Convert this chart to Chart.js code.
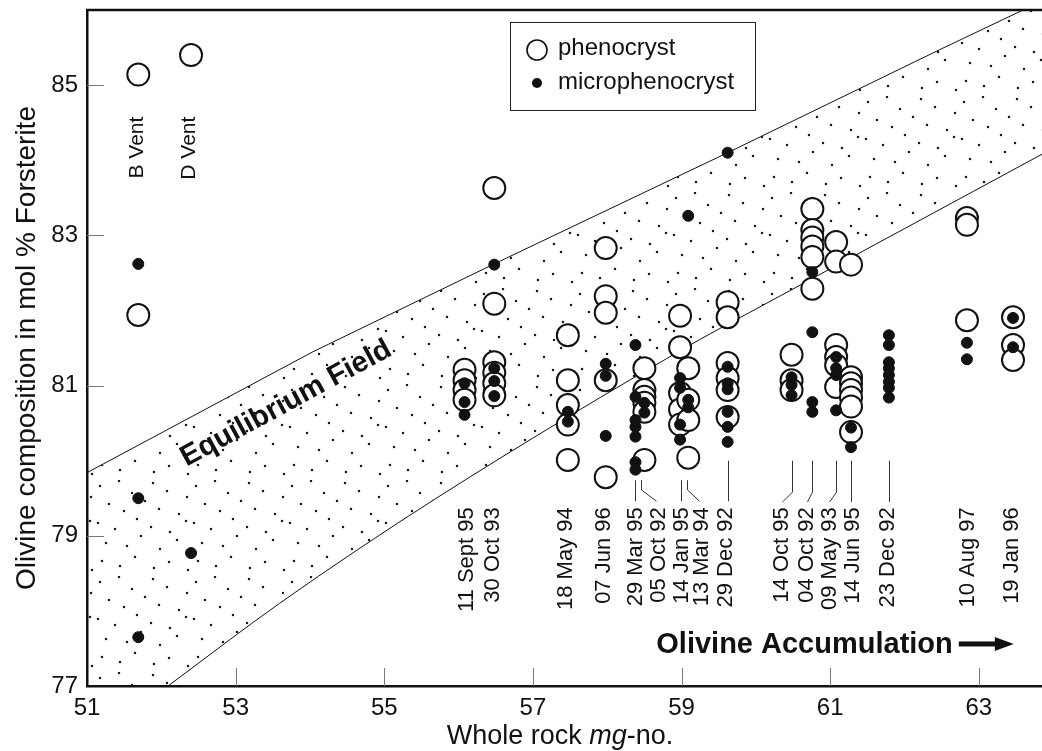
<!DOCTYPE html>
<html>
<head>
<meta charset="utf-8">
<title>Olivine composition vs whole rock mg-no.</title>
<script src="https://cdn.jsdelivr.net/npm/chart.js@4.4.1/dist/chart.umd.min.js"></script>
<style>
  html, body { margin: 0; padding: 0; background: #fff; }
  #wrap { width: 1042px; height: 751px; }
</style>
</head>
<body>
<div id="wrap"><canvas id="chart"></canvas></div>
<script>
"use strict";

const FONT = "'Liberation Sans', Arial, Helvetica, sans-serif";
const INK = "#111";

const X_TICKS = [51, 53, 55, 57, 59, 61, 63];
const Y_TICKS = [77, 79, 81, 83, 85];

// Phenocryst analyses (open circles): whole rock mg-no. / olivine Fo
const PHENO_X = [
  51.69, 51.69,
  52.40,
  56.08, 56.08, 56.08, 56.08,
  56.48, 56.48, 56.48, 56.48, 56.48, 56.48,
  57.47, 57.47, 57.47, 57.47, 57.47,
  57.98, 57.98, 57.98, 57.98, 57.98,
  58.50, 58.50, 58.50, 58.50, 58.50, 58.50,
  58.98, 58.98, 58.98, 58.98, 58.98,
  59.09, 59.09, 59.09, 59.09,
  59.62, 59.62, 59.62, 59.62, 59.62, 59.62,
  60.48, 60.48, 60.48,
  60.76, 60.76, 60.76, 60.76, 60.76, 60.76,
  61.08, 61.08, 61.08, 61.08, 61.08, 61.08,
  61.28, 61.28, 61.28, 61.28, 61.28, 61.28, 61.28,
  62.84, 62.84, 62.84,
  63.46, 63.46, 63.46,
];
const PHENO_Y = [
  85.14, 81.94,
  85.40,
  81.21, 81.07, 80.94, 80.81,
  83.63, 82.09, 81.31, 81.17, 81.03, 80.87,
  81.67, 81.07, 80.74, 80.48, 80.01,
  82.83, 82.19, 81.97, 81.07, 79.78,
  81.23, 80.94, 80.85, 80.77, 80.65, 80.01,
  81.93, 81.51, 80.90, 80.68, 80.48,
  81.23, 80.81, 80.54, 80.04,
  82.11, 81.91, 81.30, 81.10, 80.94, 80.58,
  81.41, 81.07, 80.94,
  83.35, 83.07, 82.97, 82.85, 82.71, 82.29,
  82.91, 82.65, 81.54, 81.38, 81.27, 80.98,
  82.61, 81.11, 81.03, 80.94, 80.84, 80.72, 80.38,
  83.23, 83.14, 81.87,
  81.91, 81.54, 81.34,
];

// Microphenocryst analyses (filled dots)
const MICRO_X = [
  51.69, 51.69, 51.69,
  52.40,
  56.08, 56.08, 56.08,
  56.48, 56.48, 56.48, 56.48,
  57.47, 57.47,
  57.98, 57.98, 57.98,
  58.38, 58.38, 58.38, 58.38, 58.38, 58.38, 58.38,
  58.50, 58.50,
  58.98, 58.98, 58.98, 58.98,
  59.09, 59.09, 59.09,
  59.62, 59.62, 59.62, 59.62, 59.62, 59.62, 59.62,
  60.48, 60.48, 60.48,
  60.76, 60.76, 60.76, 60.76,
  61.08, 61.08, 61.08, 61.08,
  61.28, 61.28,
  61.79, 61.79, 61.79, 61.79, 61.79, 61.79, 61.79, 61.79,
  62.84, 62.84,
  63.46, 63.46,
];
const MICRO_Y = [
  82.62, 79.50, 77.65,
  78.77,
  81.03, 80.78, 80.61,
  82.61, 81.23, 81.06, 80.86,
  80.65, 80.52,
  81.29, 81.13, 80.33,
  81.54, 80.85, 80.54, 80.45, 80.32, 79.98, 79.88,
  80.77, 80.64,
  81.10, 80.97, 80.48, 80.28,
  83.26, 80.81, 80.71,
  84.10, 81.25, 81.03, 80.95, 80.65, 80.45, 80.25,
  81.11, 81.01, 80.87,
  82.51, 81.71, 80.78, 80.65,
  81.38, 81.23, 81.14, 80.67,
  80.44, 80.18,
  81.67, 81.54, 81.31, 81.23, 81.14, 81.05, 80.97, 80.84,
  81.57, 81.35,
  81.90, 81.51,
];

// Equilibrium field boundaries (continue past the frame, clipped by the chart area)
const FIELD_UPPER_X = [51.0, 54.04, 56.48, 59.62, 62.47, 63.85];
const FIELD_UPPER_Y = [79.84, 81.45, 82.62, 84.10, 85.47, 86.12];
const FIELD_LOWER_X = [51.0, 52.09, 53.59, 55.70, 59.24, 59.91, 63.85];
const FIELD_LOWER_Y = [76.20, 77.00, 78.10, 79.50, 81.61, 81.97, 84.08];

// Eruption date labels along the bottom
const DATE_LABELS = [
  "11 Sept 95", "30 Oct 93", "18 May 94", "07 Jun 96", "29 Mar 95", "05 Oct 92",
  "14 Jan 95", "13 Mar 94", "29 Dec 92", "14 Oct 95", "04 Oct 92", "09 May 93",
  "14 Jun 95", "23 Dec 92", "10 Aug 97", "19 Jan 96",
];
const DATE_LABEL_X = [
  56.11, 56.46, 57.45, 57.96, 58.39, 58.69,
  59.01, 59.28, 59.60, 60.35, 60.69, 60.99,
  61.31, 61.78, 62.85, 63.45,
];
const DATE_LABEL_TOP = 79.38;

// Leader lines from sample columns down to their labels
const LEADERS = [
  { x: [58.38, 58.38], y: [79.74, 79.46] },
  { x: [58.46, 58.46, 58.66], y: [79.74, 79.61, 79.46] },
  { x: [58.99, 58.99], y: [79.74, 79.46] },
  { x: [59.08, 59.08, 59.23], y: [79.74, 79.61, 79.46] },
  { x: [59.62, 59.62], y: [80.00, 79.46] },
  { x: [60.49, 60.49, 60.35], y: [80.00, 79.58, 79.45] },
  { x: [60.76, 60.76, 60.69], y: [80.00, 79.58, 79.45] },
  { x: [61.08, 61.08, 60.99], y: [80.00, 79.58, 79.45] },
  { x: [61.28, 61.28], y: [80.00, 79.45] },
  { x: [61.79, 61.79], y: [80.00, 79.45] },
];

const VENT_LABELS = ["B Vent", "D Vent"];
const VENT_LABEL_X = [51.67, 52.38];
const VENT_LABEL_TOP = 84.58;

// Hand-placed stipple tile for the equilibrium field (style only)
const STIPPLE_DOTS = [
  [4, 6], [23, 1], [36, 13], [57, 3], [71, 11], [91, 17],
  [13, 24], [28, 31], [49, 21], [63, 29], [83, 34],
  [2, 43], [19, 49], [41, 39], [55, 47], [74, 52], [90, 41],
  [10, 63], [31, 66], [45, 56], [64, 69], [81, 60],
  [6, 81], [24, 86], [39, 77], [58, 88], [73, 82], [92, 90],
];

function stipplePattern() {
  const tile = document.createElement("canvas");
  tile.width = 96;
  tile.height = 96;
  const g = tile.getContext("2d");
  g.fillStyle = "#1a1a1a";
  for (const [x, y] of STIPPLE_DOTS) {
    g.beginPath();
    g.arc(x, y, 1.25, 0, Math.PI * 2);
    g.fill();
  }
  return g.createPattern(tile, "repeat");
}

function toPoints(xs, ys) {
  return xs.map((x, i) => ({ x, y: ys[i] }));
}

function polyline(ctx, pts) {
  ctx.beginPath();
  pts.forEach(([x, y], i) => (i ? ctx.lineTo(x, y) : ctx.moveTo(x, y)));
  ctx.stroke();
}

function verticalText(ctx, text, x, yTop, size) {
  ctx.save();
  ctx.translate(x, yTop);
  ctx.rotate(-Math.PI / 2);
  ctx.font = `${size}px ${FONT}`;
  ctx.textAlign = "right";
  ctx.textBaseline = "middle";
  ctx.fillText(text, 0, 0);
  ctx.restore();
}

// Frame, inner ticks, annotations, legend and axis titles
const annotations = {
  id: "annotations",
  afterDraw(chart) {
    const { ctx, chartArea: a, scales: { x: xs, y: ys } } = chart;
    const X = (v) => xs.getPixelForValue(v);
    const Y = (v) => ys.getPixelForValue(v);
    ctx.save();
    ctx.fillStyle = INK;
    ctx.strokeStyle = INK;

    // top frame line
    ctx.lineWidth = 2.5;
    polyline(ctx, [[a.left - 1, a.top], [a.right, a.top]]);

    // ticks pointing into the plot
    ctx.strokeStyle = "#777";
    ctx.lineWidth = 1;
    for (const v of X_TICKS.slice(1)) {
      const p = Math.round(X(v)) + 0.5;
      polyline(ctx, [[p, a.bottom], [p, a.bottom - 18]]);
    }
    for (const v of Y_TICKS.slice(1)) {
      const p = Math.round(Y(v)) + 0.5;
      polyline(ctx, [[a.left, p], [a.left + 17, p]]);
    }

    // leader lines
    ctx.strokeStyle = "#333";
    for (const l of LEADERS) {
      polyline(ctx, l.x.map((x, i) => [Math.round(X(x)) + 0.5, Y(l.y[i])]));
    }

    // date and vent labels
    ctx.fillStyle = INK;
    DATE_LABELS.forEach((t, i) => verticalText(ctx, t, X(DATE_LABEL_X[i]), Y(DATE_LABEL_TOP), 22));
    VENT_LABELS.forEach((t, i) => verticalText(ctx, t, X(VENT_LABEL_X[i]), Y(VENT_LABEL_TOP), 21));

    // Equilibrium Field
    ctx.save();
    ctx.translate(X(52.34), Y(79.92));
    ctx.rotate(-28.5 * Math.PI / 180);
    ctx.font = `bold 29px ${FONT}`;
    ctx.textAlign = "left";
    ctx.textBaseline = "alphabetic";
    ctx.fillText("Equilibrium Field", 0, 0);
    ctx.restore();

    // Olivine Accumulation + arrow
    ctx.font = `bold 29px ${FONT}`;
    ctx.textAlign = "left";
    ctx.textBaseline = "alphabetic";
    const ox = X(58.66), oy = Y(77.44);
    ctx.fillText("Olivine Accumulation", ox, oy);
    const ax = ox + ctx.measureText("Olivine Accumulation").width + 6;
    const ay = oy - 9;
    ctx.fillRect(ax, ay - 2.5, 40, 5);
    ctx.beginPath();
    ctx.moveTo(ax + 36, ay - 7);
    ctx.lineTo(ax + 55, ay);
    ctx.lineTo(ax + 36, ay + 7);
    ctx.closePath();
    ctx.fill();

    // legend box
    const lx = a.left + 423, ly = a.top + 12;
    ctx.strokeStyle = "#222";
    ctx.lineWidth = 1;
    ctx.strokeRect(lx + 0.5, ly + 0.5, 245, 88);
    ctx.fillStyle = "#fff";
    ctx.lineWidth = 1.6;
    ctx.strokeStyle = INK;
    ctx.beginPath();
    ctx.arc(lx + 27, ly + 28, 10, 0, Math.PI * 2);
    ctx.fill();
    ctx.stroke();
    ctx.fillStyle = INK;
    ctx.beginPath();
    ctx.arc(lx + 27, ly + 61, 5, 0, Math.PI * 2);
    ctx.fill();
    ctx.font = `24px ${FONT}`;
    ctx.textBaseline = "middle";
    ctx.fillText("phenocryst", lx + 48, ly + 26);
    ctx.fillText("microphenocryst", lx + 48, ly + 60);

    // axis titles
    ctx.save();
    ctx.translate(35, (a.top + a.bottom) / 2);
    ctx.rotate(-Math.PI / 2);
    ctx.font = `28px ${FONT}`;
    ctx.textAlign = "center";
    ctx.textBaseline = "alphabetic";
    ctx.fillText("Olivine composition in mol % Forsterite", 0, 0);
    ctx.restore();

    const parts = [["Whole rock ", ""], ["mg", "italic "], ["-no.", ""]];
    let total = 0;
    for (const [t, s] of parts) {
      ctx.font = `${s}27px ${FONT}`;
      total += ctx.measureText(t).width;
    }
    let tx = 560 - total / 2;
    ctx.textAlign = "left";
    ctx.textBaseline = "alphabetic";
    for (const [t, s] of parts) {
      ctx.font = `${s}27px ${FONT}`;
      ctx.fillText(t, tx, 744);
      tx += ctx.measureText(t).width;
    }
    ctx.restore();
  },
};

function makeChart() {
  const ctx = document.getElementById("chart");
  return new Chart(ctx, {
    type: "line",
    data: {
      datasets: [
        {
          label: "microphenocryst",
          data: toPoints(MICRO_X, MICRO_Y),
          showLine: false,
          pointRadius: 5.5,
          pointBorderWidth: 1,
          pointBackgroundColor: INK,
          pointBorderColor: INK,
          order: 0,
        },
        {
          label: "phenocryst",
          data: toPoints(PHENO_X, PHENO_Y),
          showLine: false,
          pointRadius: 11,
          pointBorderWidth: 2,
          pointBackgroundColor: "#fff",
          pointBorderColor: INK,
          order: 1,
        },
        {
          label: "field upper",
          data: toPoints(FIELD_UPPER_X, FIELD_UPPER_Y),
          borderColor: INK,
          borderWidth: 1,
          pointRadius: 0,
          tension: 0,
          fill: { target: "+1" },
          backgroundColor: stipplePattern(),
          order: 2,
        },
        {
          label: "field lower",
          data: toPoints(FIELD_LOWER_X, FIELD_LOWER_Y),
          borderColor: INK,
          borderWidth: 1,
          pointRadius: 0,
          cubicInterpolationMode: "monotone",
          fill: false,
          order: 3,
        },
      ],
    },
    options: {
      responsive: true,
      maintainAspectRatio: false,
      animation: false,
      events: [],
      layout: { autoPadding: false, padding: { top: 10, right: 0, left: 0, bottom: 0 } },
      plugins: {
        legend: { display: false },
        tooltip: { enabled: false },
        title: { display: false },
      },
      scales: {
        x: {
          type: "linear",
          min: 51,
          max: 63.85,
          afterBuildTicks: (s) => { s.ticks = X_TICKS.map((v) => ({ value: v })); },
          afterFit: (s) => {
            s.height = 65;
            s.paddingLeft = 0;
            s.paddingRight = 0;
          },
          grid: { drawOnChartArea: false, drawTicks: false },
          border: { display: true, color: INK, width: 2.5 },
          ticks: { color: INK, font: { family: FONT, size: 24 }, padding: 8, maxRotation: 0, autoSkip: false },
        },
        y: {
          type: "linear",
          min: 77,
          max: 86,
          afterBuildTicks: (s) => { s.ticks = Y_TICKS.map((v) => ({ value: v })); },
          afterFit: (s) => {
            s.width = 87;
            s.paddingTop = 0;
            s.paddingBottom = 0;
          },
          grid: { drawOnChartArea: false, drawTicks: false },
          border: { display: true, color: INK, width: 2.5 },
          ticks: { color: INK, font: { family: FONT, size: 24 }, padding: 9 },
        },
      },
    },
    plugins: [annotations],
  });
}

makeChart();
</script>
</body>
</html>
